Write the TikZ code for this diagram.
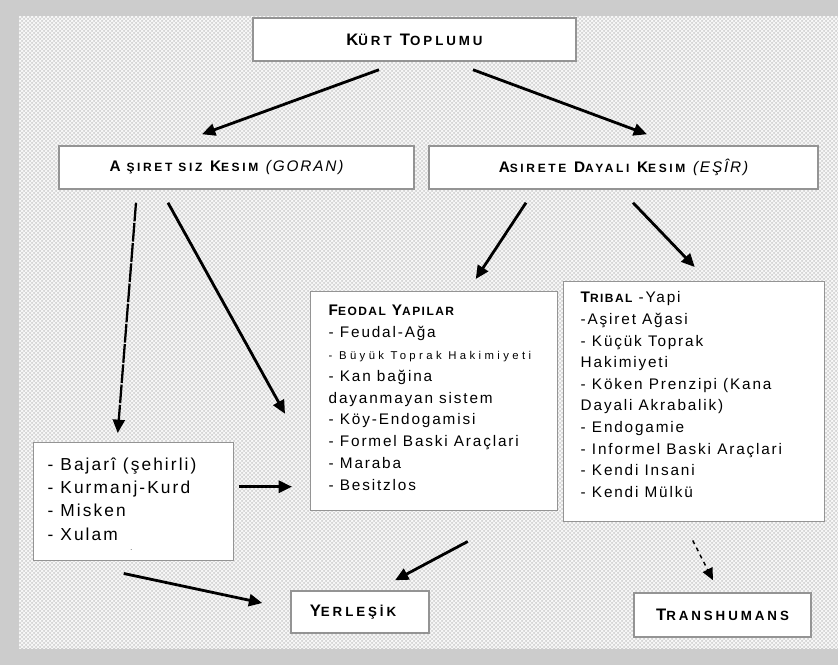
\documentclass[tikz,border=0pt]{standalone}
\usepackage{fontspec}
\setmainfont{Liberation Sans}[LetterSpace=12]
\newfontfamily\kopf{Liberation Sans}[LetterSpace=22]
\usetikzlibrary{arrows.meta,patterns}
\definecolor{rahmen}{gray}{0.8}
\definecolor{muster}{gray}{0.84}
\definecolor{kante}{gray}{0.58}
\newcommand\klein[1]{{\fontsize{9}{10}\selectfont #1}}
\newcommand\gross[1]{{\fontsize{10}{11}\selectfont #1}}
\begin{document}
\begin{tikzpicture}[x=0.75pt,y=-0.75pt,
  kasten/.style={draw=kante, line width=1.1pt, fill=white, inner sep=0pt},
  titel/.style={kasten, font=\kopf\bfseries\fontsize{11.5}{13}\selectfont},
  obertitel/.style={kasten, font=\kopf\bfseries\fontsize{12.5}{14}\selectfont},
  liste/.style={kasten, anchor=north west},
  pfeil/.style={line width=2.1pt, -{Triangle[length=10pt,width=9pt]}}]
\fill[rahmen] (0,0) rectangle (838,665);
\fill[muster] (19,16) rectangle (838,648);
\fill[pattern=crosshatch, pattern color=white] (19,16) rectangle (838,648);
\useasboundingbox (0,0) rectangle (838,665);
\node[obertitel, minimum width=242.25pt, minimum height=32.25pt] (kurt) at (414.5,39.5){K\gross{ÜRT} T\gross{OPLUMU}};
\node[titel, minimum width=266.25pt, minimum height=32.25pt] (goran) at (236.5,167.5){A\klein{ ŞIRET SIZ} K\klein{ESIM} {\normalfont\itshape (GORAN)}\hspace*{15pt}};
\node[titel, minimum width=291.75pt, minimum height=32.25pt] (esir) at (623.5,167.5){A\klein{SIRETE} D\klein{AYALI} K\klein{ESIM} {\normalfont\itshape (EŞÎR)}};
\node[liste, inner xsep=13.5pt] (feodal) at (310,291){\parbox[c][164.25pt][t]{158.25pt}{\fontsize{11.5}{16.4}\selectfont\vspace*{10pt}%
{\bfseries F\klein{EODAL} Y\klein{APILAR}}\\
- Feudal-Ağa\\
{\fontsize{8.5}{10}\selectfont\addfontfeature{LetterSpace=30}- Büyük Toprak Hakimiyeti}\\
- Kan bağina\\
dayanmayan sistem\\
- Köy-Endogamisi\\
- Formel Baski Araçlari\\
- Maraba\\
- Besitzlos}};
\node[liste, inner xsep=12.75pt] (tribal) at (563,281){\parbox[c][180pt][t]{170.25pt}{\fontsize{11.5}{16.2}\selectfont\vspace*{7.5pt}%
{\bfseries T\klein{RIBAL}} -Yapi\\
-Aşiret Ağasi\\
- Küçük Toprak\\
Hakimiyeti\\
- Köken Prenzipi (Kana\\
Dayali Akrabalik)\\
- Endogamie\\
- Informel Baski Araçlari\\
- Kendi Insani\\
- Kendi Mülkü}};
\node[liste, inner xsep=10.5pt] (grup) at (33,442){\parbox[c][88.5pt][t]{129pt}{\fontsize{13}{17.5}\selectfont\vspace*{11pt}%
- Bajarî (şehirli)\\
- Kurmanj-Kurd\\
- Misken\\
- Xulam\\[-10pt]
\hspace*{62pt}{\tiny .}}};
\node[obertitel, minimum width=103.5pt, minimum height=31.5pt] (yerlesik) at (360,612){Y\gross{ERLEŞİK}\hspace*{10.5pt}};
\node[obertitel, minimum width=132.75pt, minimum height=33pt] (trans) at (722.5,615){T\gross{RANSHUMANS}};
\draw[pfeil]([shift={(-35.5,8)}]kurt.south) -- ([shift={(-34.5,-11)}]goran.north);
\draw[pfeil]([shift={(58.5,8)}]kurt.south) -- ([shift={(23.5,-11)}]esir.north);
\draw[pfeil, line width=1.7pt, dash pattern=on 14pt off 1.2pt]([shift={(-100.5,13)}]goran.south) -- ([shift={(-16,-9)}]grup.north);
\draw[pfeil]([shift={(-68.5,13)}]goran.south) -- ([shift={(-25,12.5)}]feodal.west);
\draw[pfeil]([shift={(-97.5,13)}]esir.south) -- ([shift={(41.5,-12)}]feodal.north);
\draw[pfeil]([shift={(9.5,13)}]esir.south) -- ([shift={(0.5,-14)}]tribal.north);
\draw[pfeil]([shift={(5,-15)}]grup.east) -- ([shift={(-18,85.5)}]feodal.west);
\draw[pfeil]([shift={(-10,12)}]grup.south) -- ([shift={(-28,-9)}]yerlesik.west);
\draw[pfeil]([shift={(33.5,30)}]feodal.south) -- ([shift={(35,-10)}]yerlesik.north);
\draw[pfeil, line width=1.1pt, dashed, -{Triangle[length=9pt,width=8pt]}]([shift={(-1.5,18)}]tribal.south) -- ([shift={(-9.5,-12)}]trans.north);
\end{tikzpicture}
\end{document}
